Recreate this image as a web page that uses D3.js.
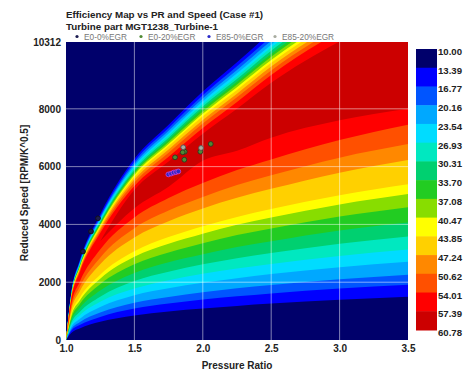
<!DOCTYPE html>
<html>
<head>
<meta charset="utf-8">
<script src="https://cdn.jsdelivr.net/npm/d3@7"></script>
<style>
  body { margin: 0; background: #fff; }
  svg text { font-family: "Liberation Sans", Arial, sans-serif; }
</style>
</head>
<body>
<div id="chart"></div>
<script>
// pressure ratio columns the contour curves are read at
const prCols = [1.0, 1.04, 1.1, 1.25, 1.5, 1.75, 2.0, 2.25, 2.5, 3.0, 3.5];

// colour scale levels (efficiency %)
const levels = [10.00, 13.39, 16.77, 20.16, 23.54, 26.93, 30.31, 33.70, 37.08, 40.47, 43.85, 47.24, 50.62, 54.01, 57.39, 60.78];
const bandColors = ['#00006b', '#0000ff', '#0055ff', '#00a8ff', '#00dcff', '#00e8c0', '#00d070', '#22cc22', '#88dd00',
  '#ffff00', '#ffd000', '#ff8800', '#ff5000', '#ff0000', '#cc0000'];

// high-speed side of each contour level 13.39 .. 54.01 (reduced speed at prCols)
const upperSpeed = [
  [0, 1700, 2750, 4350, 6270, 7450, 8600, 9610, 10650, 12350, 13700],
  [0, 1670, 2710, 4280, 6180, 7340, 8470, 9470, 10490, 12160, 13490],
  [0, 1650, 2670, 4230, 6090, 7240, 8360, 9340, 10350, 12000, 13320],
  [0, 1630, 2640, 4180, 6020, 7150, 8260, 9230, 10220, 11860, 13150],
  [0, 1620, 2610, 4130, 5960, 7080, 8170, 9130, 10120, 11730, 13020],
  [0, 1600, 2590, 4090, 5890, 7000, 8080, 9030, 10010, 11610, 12880],
  [0, 1580, 2560, 4050, 5830, 6930, 8000, 8940, 9900, 11490, 12740],
  [0, 1560, 2530, 4000, 5770, 6850, 7910, 8840, 9800, 11360, 12600],
  [0, 1550, 2500, 3960, 5710, 6780, 7830, 8750, 9690, 11240, 12470],
  [0, 1530, 2480, 3920, 5640, 6710, 7740, 8650, 9590, 11120, 12330],
  [0, 1500, 2430, 3850, 5550, 6590, 7610, 8520, 9460, 10990, 12180],
  [0, 1480, 2390, 3780, 5450, 6480, 7490, 8400, 9330, 10850, 12040],
  [0, 1450, 2340, 3700, 5330, 6340, 7340, 8240, 9170, 10680, 11850]
];
// low-speed side of the same levels
const lowerSpeed = [
  [0, 250, 400, 630, 850, 990, 1090, 1180, 1260, 1390, 1500],
  [0, 330, 520, 800, 1090, 1260, 1400, 1510, 1610, 1780, 1910],
  [0, 380, 610, 950, 1290, 1490, 1650, 1790, 1900, 2100, 2260],
  [0, 460, 730, 1140, 1550, 1790, 1980, 2140, 2280, 2520, 2710],
  [0, 530, 850, 1320, 1780, 2070, 2290, 2470, 2630, 2910, 3130],
  [0, 610, 970, 1500, 2040, 2360, 2620, 2830, 3010, 3330, 3580],
  [0, 690, 1100, 1710, 2320, 2690, 2970, 3220, 3420, 3790, 4070],
  [0, 780, 1240, 1930, 2620, 3030, 3350, 3630, 3860, 4270, 4590],
  [0, 860, 1360, 2120, 2880, 3330, 3680, 3990, 4240, 4690, 5050],
  [0, 920, 1460, 2260, 3070, 3560, 3940, 4260, 4530, 5010, 5390],
  [0, 1060, 1680, 2620, 3550, 4110, 4550, 4920, 5230, 5790, 6230],
  [0, 1150, 1830, 2850, 3870, 4480, 4950, 5360, 5700, 6310, 6780],
  [0, 1270, 2010, 3130, 4240, 4910, 5430, 5880, 6250, 6920, 7450]
];
// top level 57.39 only exists from PR 1.25 upward
const peakUpper = [null, null, null, 3420, 5200, 6180, 7140, 8000, 8900, 10330, 11450];
const peakLower = [null, null, null, 3420, 4560, 5300, 6200, 6550, 7000, 7600, 8000];

// measured operating points
const seriesNames = ['E0-0%EGR', 'E0-20%EGR', 'E85-0%EGR', 'E85-20%EGR'];
const seriesColors = ['#1c1c50', '#4f8a34', '#2a2ac8', '#a8aca0'];
const seriesStroke = ['#111', '#2a3a20', '#c040d0', '#555'];
const e0Egr0 = [[1.124, 3061], [1.183, 3757], [1.234, 4210]];
const e0Egr20 = [[1.868, 6516], [1.853, 6495], [1.797, 6321], [1.865, 6238], [1.982, 6516], [2.058, 6784]];
const e85Egr0 = [[1.748, 5730], [1.768, 5758], [1.786, 5792], [1.804, 5810], [1.821, 5834]];
const e85Egr20 = [[1.857, 6669], [1.987, 6645]];

const xTicks = [1.0, 1.5, 2.0, 2.5, 3.0, 3.5];
const yTicks = [0, 2000, 4000, 6000, 8000, 10312];

const W = 471, H = 370;
const plot = {left: 66, right: 408, top: 42, bottom: 340};

const svg = d3.select('#chart').append('svg')
  .attr('width', W)
  .attr('height', H);

const x = d3.scaleLinear().domain([1, 3.5]).range([plot.left, plot.right]);
const y = d3.scaleLinear().domain([0, 10312]).range([plot.bottom, plot.top]);

svg.append('defs').append('clipPath').attr('id', 'plotClip')
  .append('rect')
  .attr('x', plot.left).attr('y', plot.top)
  .attr('width', plot.right - plot.left).attr('height', plot.bottom - plot.top);

const field = svg.append('g').attr('clip-path', 'url(#plotClip)');

// background = lowest band
field.append('rect')
  .attr('x', plot.left).attr('y', plot.top)
  .attr('width', plot.right - plot.left).attr('height', plot.bottom - plot.top)
  .attr('fill', bandColors[0]);

const area = d3.area()
  .x(d => x(d.pr))
  .y0(d => y(d.lo))
  .y1(d => y(d.hi))
  .curve(d3.curveMonotoneX);

// stack the filled bands, lowest level first
const bands = upperSpeed.map((u, k) => prCols.map((pr, i) => ({pr, hi: u[i], lo: lowerSpeed[k][i]})));
bands.push(prCols.map((pr, i) => ({pr, hi: peakUpper[i], lo: peakLower[i]})).filter(d => d.hi != null));

field.selectAll('path.band')
  .data(bands)
  .enter()
  .append('path')
  .attr('class', 'band')
  .attr('d', area)
  .attr('fill', (d, i) => bandColors[i + 1]);

// grid
const grid = svg.append('g').attr('stroke', '#fff').attr('stroke-opacity', 0.5).attr('stroke-width', 1);
grid.selectAll('line.v')
  .data(xTicks.slice(1, -1))
  .enter().append('line')
  .attr('x1', d => x(d)).attr('x2', d => x(d))
  .attr('y1', plot.top).attr('y2', plot.bottom);
grid.selectAll('line.h')
  .data(yTicks.slice(1, -1))
  .enter().append('line')
  .attr('x1', plot.left).attr('x2', plot.right)
  .attr('y1', d => y(d)).attr('y2', d => y(d));

// operating points
const pointSets = [e0Egr0, e0Egr20, e85Egr0, e85Egr20];
pointSets.forEach((pts, s) => {
  svg.append('g').selectAll('circle')
    .data(pts)
    .enter().append('circle')
    .attr('cx', d => x(d[0]))
    .attr('cy', d => y(d[1]))
    .attr('r', 2.4)
    .attr('fill', seriesColors[s])
    .attr('stroke', seriesStroke[s])
    .attr('stroke-width', 0.9);
});

// axes
const yAxis = svg.append('g')
  .attr('transform', `translate(${plot.left},0)`)
  .call(d3.axisLeft(y).tickValues(yTicks).tickSize(0).tickPadding(5).tickFormat(d3.format('d')));
yAxis.select('.domain').remove();
yAxis.selectAll('text')
  .attr('font-size', 10)
  .attr('font-weight', 'bold')
  .attr('fill', '#222');

const xAxis = svg.append('g')
  .attr('transform', `translate(0,${plot.bottom})`)
  .call(d3.axisBottom(x).tickValues(xTicks).tickSize(0).tickPadding(5).tickFormat(d3.format('.1f')));
xAxis.select('.domain').remove();
xAxis.selectAll('text')
  .attr('font-size', 10)
  .attr('font-weight', 'bold')
  .attr('fill', '#222');

// titles
svg.append('text')
  .attr('x', 66).attr('y', 18)
  .attr('font-size', 9.8).attr('font-weight', 'bold').attr('fill', '#222')
  .text('Efficiency Map vs PR and Speed (Case #1)');
svg.append('text')
  .attr('x', 66).attr('y', 29.5)
  .attr('font-size', 9.8).attr('font-weight', 'bold').attr('fill', '#222')
  .text('Turbine part MGT1238_Turbine-1');

svg.append('text')
  .attr('x', (plot.left + plot.right) / 2).attr('y', 369)
  .attr('text-anchor', 'middle')
  .attr('font-size', 10).attr('font-weight', 'bold').attr('fill', '#222')
  .text('Pressure Ratio');
svg.append('text')
  .attr('transform', `translate(28,${(plot.top + plot.bottom) / 2 + 2}) rotate(-90)`)
  .attr('text-anchor', 'middle')
  .attr('font-size', 10).attr('font-weight', 'bold').attr('fill', '#222')
  .text('Reduced Speed [RPM/K^0.5]');

// legend
const legendX = [77, 141, 209, 275];
const legend = svg.append('g');
seriesNames.forEach((name, i) => {
  legend.append('circle')
    .attr('cx', legendX[i]).attr('cy', 36.5).attr('r', 1.6)
    .attr('fill', seriesColors[i]);
  legend.append('text')
    .attr('x', legendX[i] + 7).attr('y', 39.5)
    .attr('font-size', 8.3).attr('fill', '#777')
    .text(name);
});

// colour bar
const cb = {x: 416, w: 21, top: 49, bottom: 330};
const cbY = d3.scaleLinear().domain([10.00, 60.78]).range([cb.top, cb.bottom]);
svg.append('g').selectAll('rect')
  .data(bandColors)
  .enter().append('rect')
  .attr('x', cb.x)
  .attr('y', (d, i) => cbY(levels[i]))
  .attr('width', cb.w)
  .attr('height', (d, i) => cbY(levels[i + 1]) - cbY(levels[i]) + 0.5)
  .attr('fill', d => d);
svg.append('g').selectAll('text')
  .data(levels)
  .enter().append('text')
  .attr('x', cb.x + cb.w + 1)
  .attr('y', d => cbY(d) + 6)
  .attr('font-size', 9.6).attr('font-weight', 'bold').attr('fill', '#222')
  .text(d => d.toFixed(2));
</script>
</body>
</html>
